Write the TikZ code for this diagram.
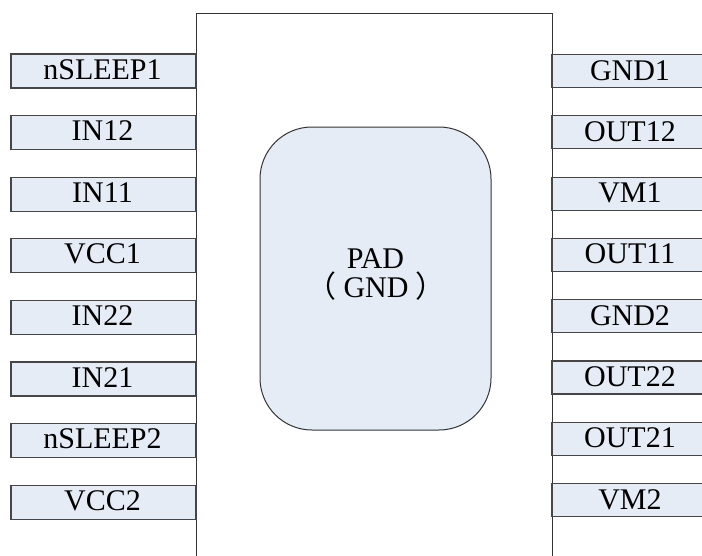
\documentclass[tikz,border=0pt]{standalone}
\usepackage{fontspec}
\setmainfont{Liberation Serif}
\newfontfamily\cjk{Noto Sans CJK SC}
\definecolor{padfill}{RGB}{230,236,246}
\definecolor{edge}{RGB}{70,70,70}
\begin{document}
\begin{tikzpicture}[x=1pt,y=-1pt,
  pinbox/.style={draw=edge,line width=1.1pt,fill=padfill},
  pintext/.style={anchor=base,inner sep=0pt,font=\fontsize{30}{30}\selectfont},
  padtext/.style={anchor=base,inner sep=0pt,font=\fontsize{30}{30}\selectfont}]
\useasboundingbox (0,0) rectangle (702,555);
\clip (0,0) rectangle (702,555);
% chip body
\draw[line width=1pt,draw=black!80] (196,570) -- (196,13) -- (552,13) -- (552,570);
% pad
\node[draw=black!80,line width=1pt,fill=padfill,rounded corners=52pt,
  minimum width=231pt,minimum height=303pt] (pad) at (375.5,278.5) {};
\node[padtext] (padlbl) at (375.5,268) {PAD};
\node[padtext] (gndlbl) at (376,297) {{\cjk （}\hspace{7pt}GND\hspace{7pt}{\cjk ）}};
% left pins
\foreach \t [count=\i] in {nSLEEP1,IN12,IN11,VCC1,IN22,IN21,nSLEEP2,VCC2}{
  \pgfmathsetmacro{\yc}{71+(\i-1)*61.6}
  \draw[pinbox] (11,\yc-17) rectangle (196,\yc+17);
  \node[pintext] (L\i) at (102.5,\yc+8) {\t};
}
% right pins
\foreach \t [count=\i] in {GND1,OUT12,VM1,OUT11,GND2,OUT22,OUT21,VM2}{
  \pgfmathsetmacro{\yc}{71+(\i-1)*61.3}
  \draw[pinbox] (552,\yc-16.5) rectangle (712,\yc+16.5);
  \node[pintext] (R\i) at (630,\yc+9) {\t};
}
\end{tikzpicture}
\end{document}
